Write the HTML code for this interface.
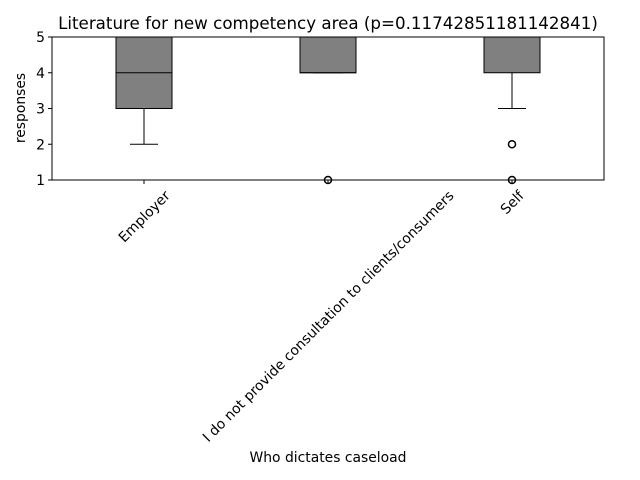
<!DOCTYPE html>
<html><head><meta charset="utf-8"><style>body{margin:0;background:#fff}svg{display:block;font-family:"DejaVu Sans","Liberation Sans",sans-serif}</style></head>
<body>
<svg id="c" width="640" height="480">
<text x="328" y="29" font-size="16.7" text-anchor="middle">Literature for new competency area (p=0.11742851181142841)</text>
<text transform="translate(25,108) rotate(-90)" font-size="13.9" text-anchor="middle">responses</text>
<text x="328" y="462" font-size="13.9" text-anchor="middle">Who dictates caseload</text>
</svg>
<script>
const categories=["Employer","I do not provide consultation to clients/consumers","Self"];
const q1s=[3,4,4];
const medians=[4,4,5];
const q3s=[5,5,5];
const whiskLo=[2,4,3];
const whiskHi=[5,5,5];
const outliers=[[],[1],[2,1]];
const yTicks=[1,2,3,4,5];
const svg=document.getElementById('c');const NS='http://www.w3.org/2000/svg';
const L=52,R=604,T=37,B=180;
const y=v=>B-(v-1)/(5-1)*(B-T);
const x=i=>L+(R-L)*(i+0.5)/categories.length;
function mk(t,a,p){const e=document.createElementNS(NS,t);for(const k in a)e.setAttribute(k,a[k]);(p||svg).appendChild(e);return e;}
const hw=28,cw=14;
categories.forEach((c,i)=>{
 const g=mk('g',{});
 
 
 const cx=x(i);
 mk('line',{x1:cx,x2:cx,y1:y(q1s[i]),y2:y(whiskLo[i]),stroke:'#000'},g);
 mk('line',{x1:cx,x2:cx,y1:y(q3s[i]),y2:y(whiskHi[i]),stroke:'#000'},g);
 mk('line',{x1:cx-cw,x2:cx+cw,y1:y(whiskLo[i]),y2:y(whiskLo[i]),stroke:'#000'},g);
 mk('line',{x1:cx-cw,x2:cx+cw,y1:y(whiskHi[i]),y2:y(whiskHi[i]),stroke:'#000'},g);
 mk('rect',{x:cx-hw,y:y(q3s[i]),width:2*hw,height:y(q1s[i])-y(q3s[i]),fill:'#808080',stroke:'#000'},g);
 mk('line',{x1:cx-hw,x2:cx+hw,y1:y(medians[i]),y2:y(medians[i]),stroke:'#000'},g);
 outliers[i].forEach(o=>{const p=mk('circle',{cx:cx,cy:y(o),r:3.5,fill:'none',stroke:'#000','stroke-width':1.5});
  
  });
 mk('line',{x1:cx,x2:cx,y1:B,y2:B+4,stroke:'#000'});
 const t=mk('text',{'font-size':13.9,'text-anchor':'middle'});
 t.textContent=c;
 
 
 const w=t.getComputedTextLength();
 const cy=B+8+(w+14)*0.7071/2;
 t.setAttribute('transform',`translate(${cx},${cy}) rotate(-45) translate(0,5)`);
});
yTicks.forEach(v=>{
 mk('line',{x1:L-4,x2:L,y1:y(v),y2:y(v),stroke:'#000'});
 const t=mk('text',{x:L-7,y:y(v)+5,'font-size':13.9,'text-anchor':'end'});
 t.textContent=v;
 
 
});
const f=mk('rect',{x:L,y:T,width:R-L,height:B-T,fill:'none',stroke:'#000'});


</script>
</body></html>
